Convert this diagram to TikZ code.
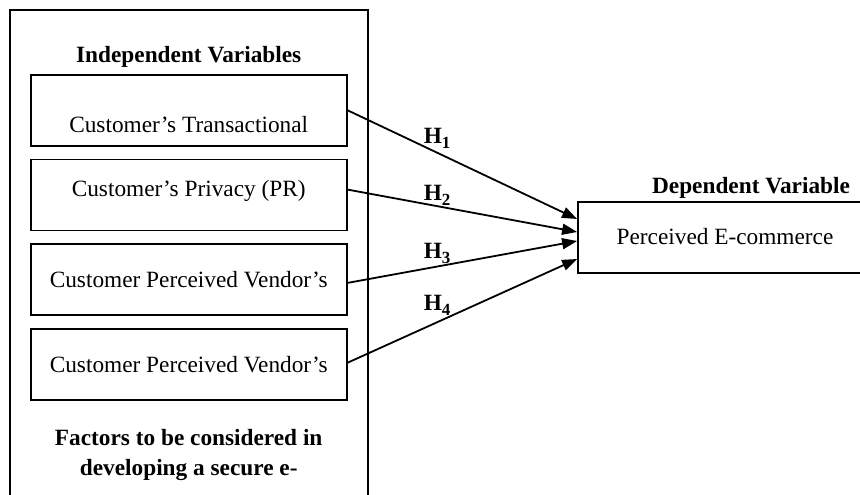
\documentclass[tikz,border=0pt]{standalone}
\usepackage{fontspec}
\setmainfont{Liberation Serif}
\usetikzlibrary{positioning,arrows.meta}
\newcommand{\hyplabel}[1]{H\raisebox{-5pt}{\fontsize{17}{17}\selectfont #1}}
\begin{document}
\begin{tikzpicture}[x=1pt, y=1pt,
        every node/.style={font=\fontsize{23.3}{30}\selectfont},
        box/.style={draw, line width=1.8pt, minimum width=316pt, minimum height=71pt, inner sep=0pt},
        low/.style={text height=44pt, text depth=0pt},
        mid/.style={text height=8pt, text depth=6pt},
        vend/.style={text height=15pt, text depth=0pt},
        title/.style={font=\fontsize{23.3}{30}\selectfont\bfseries, inner sep=0pt, align=center},
        hyp/.style={font=\fontsize{23.3}{30}\selectfont\bfseries, inner sep=0pt},
        link/.style={-{Triangle[length=15pt, width=11pt]}, line width=1.8pt}]
            \useasboundingbox (0,0) rectangle (860,495);

            % 外框
            \node[draw, line width=1.8pt, minimum width=358pt, minimum height=505pt] (frame) at (189,232.5) {};

            % 自变量
            \node[box, low] (b1) at (188.7,384.7) {Customer's Transactional};
            \node[box, mid, below=12pt of b1] (b2) {Customer's Privacy (PR)};
            \node[box, vend, below=12pt of b2] (b3) {Customer Perceived Vendor's};
            \node[box, vend, below=12pt of b3] (b4) {Customer Perceived Vendor's};
            \node[title, above=6pt of b1] (indep) {Independent Variables};
            \node[title, below=28pt of b4] (factors) {Factors to be considered in\\developing a secure e-};

            % 因变量
            \node[box, vend, minimum width=294pt] (dep) at (725,257.5) {Perceived E-commerce};
            \node[title, above=2pt of dep, xshift=26pt] (deptitle) {Dependent Variable};

            % 假设
            \draw[link] (b1.east) -- node[hyp, pos=.39, above=3pt] (h1) {\hyplabel{1}} ([yshift=18.5pt]dep.west);
            \draw[link] ([yshift=5.5pt]b2.east) -- node[hyp, pos=.39, above=0pt] (h2) {\hyplabel{2}} ([yshift=5.5pt]dep.west);
            \draw[link] ([yshift=-3pt]b3.east) -- node[hyp, pos=.39, above=2pt] (h3) {\hyplabel{3}} ([yshift=-3.5pt]dep.west);
            \draw[link] ([yshift=2pt]b4.east) -- node[hyp, pos=.39, above=6pt] (h4) {\hyplabel{4}} ([yshift=-21.5pt]dep.west);
        \end{tikzpicture}
\end{document}
